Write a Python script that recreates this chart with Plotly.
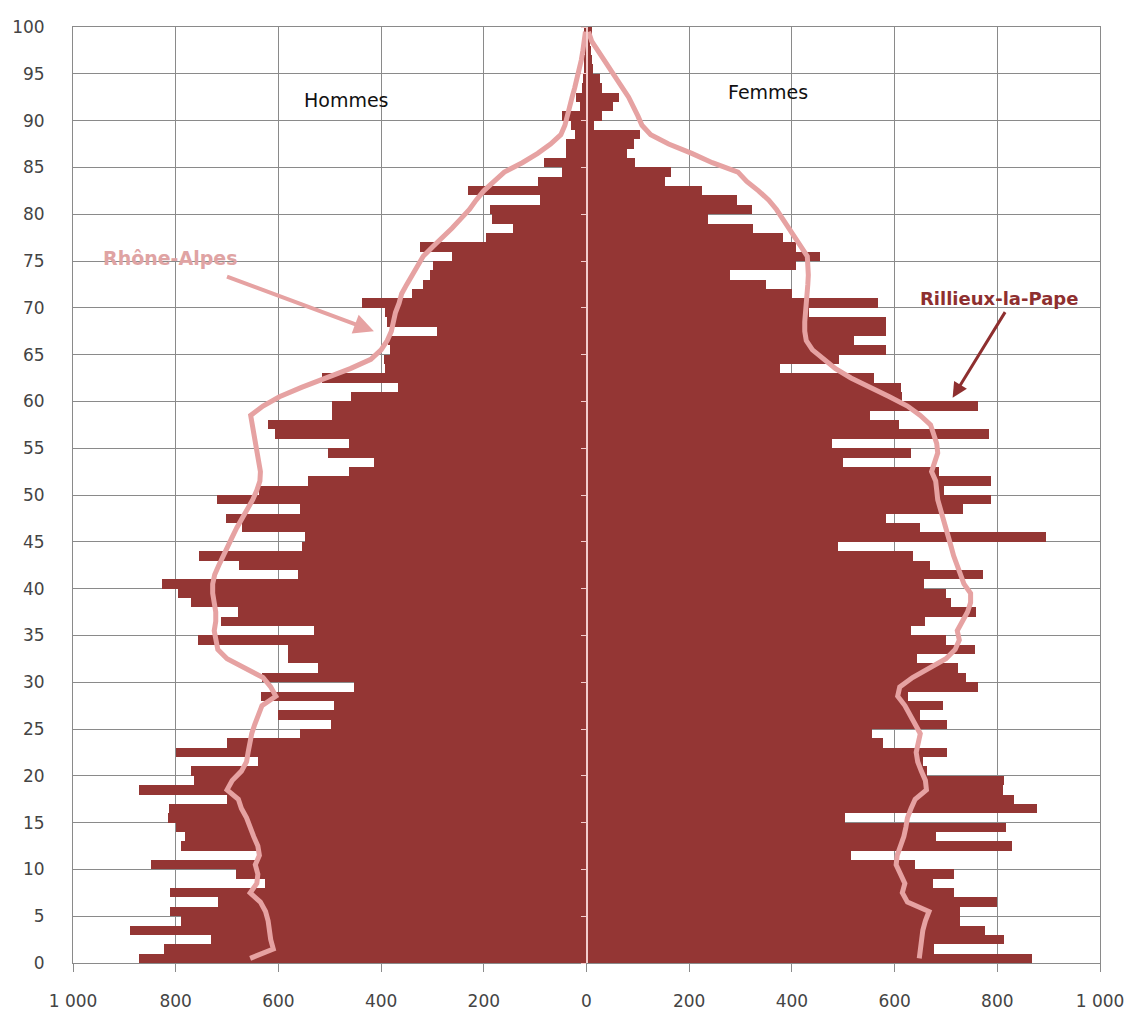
import plotly.graph_objects as go

# ---------------- data ----------------
ages = list(range(0, 100))

# Rillieux-la-Pape population by single year of age
hommes = [871, 823, 732, 889, 789, 812, 718, 812, 627, 683,
          848, 635, 790, 781, 800, 815, 813, 700, 872, 765,
          770, 640, 800, 700, 558, 498, 601, 491, 633, 452,
          632, 522, 581, 581, 756, 530, 712, 679, 770, 795,
          827, 562, 677, 755, 555, 548, 670, 702, 558, 719,
          638, 543, 462, 413, 504, 462, 607, 620, 495, 495,
          459, 367, 515, 393, 394, 383, 386, 292, 388, 392,
          437, 340, 318, 305, 298, 262, 325, 195, 143, 185,
          187, 90, 230, 95, 48, 82, 40, 40, 22, 30,
          47, 12, 20, 8, 6, 5, 4, 3, 2, 5]

femmes = [867, 677, 814, 776, 728, 728, 800, 716, 675, 716,
          640, 516, 829, 680, 817, 503, 877, 832, 812, 814,
          663, 655, 703, 578, 556, 703, 650, 695, 627, 763,
          740, 723, 643, 756, 700, 632, 660, 759, 709, 700,
          658, 773, 668, 636, 489, 894, 649, 584, 734, 787,
          696, 787, 687, 499, 632, 479, 784, 608, 553, 763,
          615, 613, 560, 376, 491, 583, 520, 583, 583, 434,
          568, 400, 350, 280, 408, 455, 408, 382, 325, 237,
          323, 293, 224, 153, 165, 95, 78, 92, 105, 15,
          31, 51, 64, 31, 27, 12, 10, 8, 6, 10]

# Rhône-Alpes profile (scaled)
hommes_ra = [655, 610, 615, 617, 620, 625, 635, 655, 642, 640,
             645, 637, 640, 648, 655, 662, 672, 678, 700, 690,
             672, 662, 659, 656, 652, 646, 640, 632, 605, 615,
             630, 665, 700, 718, 722, 725, 722, 722, 725, 728,
             728, 724, 716, 708, 700, 690, 681, 670, 660, 650,
             642, 636, 635, 638, 640, 643, 647, 651, 654, 630,
             598, 555, 505, 460, 420, 400, 388, 380, 376, 372,
             365, 360, 350, 340, 330, 318, 300, 280, 262, 245,
             228, 215, 200, 180, 160, 125, 95, 70, 50, 42,
             38, 33, 28, 23, 18, 14, 10, 7, 4, 2]

femmes_ra = [648, 650, 652, 655, 660, 667, 625, 615, 620, 612,
             603, 605, 612, 618, 622, 625, 632, 640, 662, 660,
             652, 645, 642, 645, 650, 640, 630, 620, 606, 610,
             635, 670, 700, 718, 726, 722, 732, 742, 748, 748,
             735, 728, 720, 715, 710, 705, 700, 694, 688, 684,
             682, 680, 672, 678, 684, 682, 676, 670, 650, 625,
             590, 550, 515, 485, 462, 440, 428, 425, 425, 427,
             428, 430, 431, 432, 432, 430, 418, 405, 395, 382,
             370, 355, 335, 312, 295, 245, 205, 160, 125, 108,
             100, 92, 82, 70, 58, 45, 32, 20, 10, 4]

x_ticks = [-1000, -800, -600, -400, -200, 0, 200, 400, 600, 800, 1000]
x_tick_text = ["1 000", "800", "600", "400", "200", "0", "200", "400", "600", "800", "1 000"]
y_ticks = list(range(0, 101, 5))

# ---------------- styles ----------------
BAR = "#943634"
PINK = "#e6a2a2"
GRID = "#8a8a8a"
TXT = "#444444"
FONT = "DejaVu Sans"

y_mid = [a + 0.5 for a in ages]

fig = go.Figure()
fig.add_trace(go.Bar(y=y_mid, x=[-v for v in hommes], orientation="h", width=1.0,
                     marker=dict(color=BAR, line=dict(width=0)), name="Hommes",
                     showlegend=False, hoverinfo="skip"))
fig.add_trace(go.Bar(y=y_mid, x=femmes, orientation="h", width=1.0,
                     marker=dict(color=BAR, line=dict(width=0)), name="Femmes",
                     showlegend=False, hoverinfo="skip"))
fig.add_trace(go.Scatter(y=y_mid, x=[-v for v in hommes_ra], mode="lines",
                         line=dict(color=PINK, width=5), showlegend=False, hoverinfo="skip"))
fig.add_trace(go.Scatter(y=y_mid, x=femmes_ra, mode="lines",
                         line=dict(color=PINK, width=5), showlegend=False, hoverinfo="skip"))

fig.update_layout(
    width=1136, height=1023,
    margin=dict(l=73, r=29, t=27, b=50),
    paper_bgcolor="white", plot_bgcolor="white",
    barmode="overlay", bargap=0,
    font=dict(family=FONT, color=TXT, size=16),
    xaxis=dict(range=[-1000, 1000], tickvals=x_ticks, ticktext=x_tick_text,
               showgrid=True, gridcolor=GRID, gridwidth=1, zeroline=False,
               showline=True, linecolor=GRID, linewidth=1, mirror=True,
               ticks="outside", ticklen=8, tickcolor=GRID,
               ticklabeloverflow="allow",
               tickfont=dict(family=FONT, size=17, color=TXT), ticklabelstandoff=15),
    yaxis=dict(range=[0, 100], tickvals=y_ticks,
               showgrid=True, gridcolor=GRID, gridwidth=1, zeroline=False,
               showline=True, linecolor=GRID, linewidth=1, mirror=True,
               ticks="", tickfont=dict(family=FONT, size=17, color=TXT),
               ticklabelstandoff=24),
    yaxis2=dict(range=[0, 100], tickvals=y_ticks, overlaying="y", anchor="free",
                position=0.5, side="left", showline=True, linecolor="#f3cccc",
                linewidth=1.5, ticks="outside", ticklen=5, tickcolor="#f3cccc",
                showticklabels=False, showgrid=False, zeroline=False,
                layer="above traces"),
)

# invisible marker so that the centre axis (yaxis2) is drawn
fig.add_trace(go.Scatter(x=[0], y=[0], yaxis="y2", mode="markers",
                         marker=dict(opacity=0), showlegend=False, hoverinfo="skip"))

fig.add_annotation(x=-468, y=92.2, text="Hommes", showarrow=False,
                   font=dict(family=FONT, size=19, color="#111111"))
fig.add_annotation(x=354, y=93.1, text="Femmes", showarrow=False,
                   font=dict(family=FONT, size=19, color="#111111"))
fig.add_annotation(x=-810, y=75.3, text="<b>Rhône-Alpes</b>", showarrow=False,
                   font=dict(family=FONT, size=19, color="#dfa3a3"))
fig.add_annotation(x=804, y=71.0, text="<b>Rillieux-la-Pape</b>", showarrow=False,
                   font=dict(family=FONT, size=18, color="#8e2f2f"))
# arrows
fig.add_annotation(x=-414, y=67.5, ax=-703, ay=73.4, axref="x", ayref="y",
                   xref="x", yref="y", text="", showarrow=True,
                   arrowhead=2, arrowsize=1, arrowwidth=4, arrowcolor="#e6a2a2")
fig.add_annotation(x=713, y=60.4, ax=817, ay=69.7, axref="x", ayref="y",
                   xref="x", yref="y", text="", showarrow=True,
                   arrowhead=2, arrowsize=1, arrowwidth=3, arrowcolor="#8e2f2f")

fig.write_html("out.html", config={"displayModeBar": False},
               post_script="document.documentElement.style.margin='0px';"
                           "document.body.style.margin='0px';"
                           "document.body.style.overflow='hidden';")
